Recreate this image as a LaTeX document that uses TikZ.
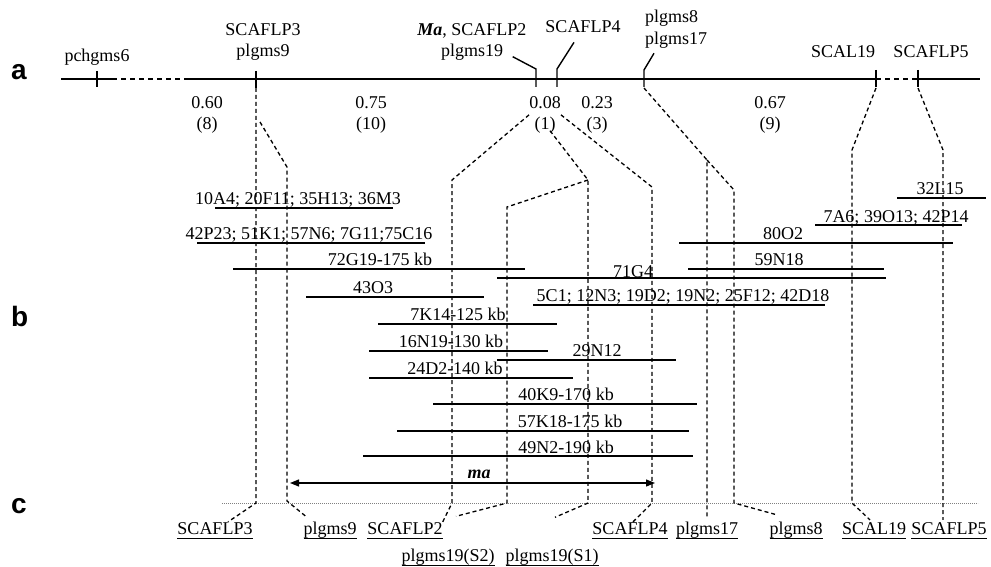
\documentclass[tikz,border=0pt]{standalone}
\usepackage{fontspec}
\setmainfont{Liberation Serif}
\newfontfamily\panelfont{Liberation Sans}
\usetikzlibrary{arrows.meta,positioning,calc}
\definecolor{dotgray}{HTML}{808080}
\newsavebox\sitebox
\newcommand{\sitename}[1]{\sbox\sitebox{#1}\rlap{\rule[-4.5bp]{\wd\sitebox}{0.9bp}}\usebox\sitebox}

\begin{document}
\begin{tikzpicture}[
  x=1bp, y=-1bp, line cap=butt, font=\fontsize{18bp}{21.5bp}\selectfont,
  mapline/.style={line width=1.8bp},
  tick/.style={line width=1.4bp},
  bac/.style={line width=1.3bp},
  link/.style={line width=1.3bp, dash pattern=on 4bp off 3bp},
  cline/.style={dotgray, line width=1bp, dash pattern=on 1bp off 1bp},
  marr/.style={<->, >={Triangle[length=9bp,width=7bp]}, line width=1.2bp},
  txt/.style={inner sep=0pt},
  stack/.style={inner sep=0pt, align=center},
  site/.style={inner sep=0pt, anchor=base},
  baclbl/.style={inner sep=0pt, anchor=base},
  panel/.style={inner sep=0pt, anchor=base west,
                font=\panelfont\bfseries\fontsize{28bp}{30bp}\selectfont}]

\useasboundingbox (0,0) rectangle (991,567);

\node[panel] (pa) at (11,80) {a};
\node[panel] (pb) at (11,326) {b};
\node[panel] (pc) at (11,513) {c};

% map
\coordinate (m0) at (61,79);
\coordinate (m1) at (112,79);
\coordinate (m2) at (188,79);
\coordinate (m3) at (980,79);
\coordinate (tPch) at (97,79);
\coordinate (tS3) at (256,79);
\coordinate (tMa) at (536,79);
\coordinate (tS4) at (557,79);
\coordinate (tPl) at (644,79);
\coordinate (tSc) at (876,79);
\coordinate (tS5) at (918,79);

\draw[mapline] (m0) -- (m1);
\draw[mapline, dash pattern=on 5bp off 4bp] (m1) -- (m2);
\draw[mapline] (m2) -- (tSc);
\draw[mapline, dash pattern=on 5bp off 4bp] (tSc) -- (tS5);
\draw[mapline] (tS5) -- (m3);

\node[txt, anchor=base] (lPch) at (97,62) {pchgms6};
\node[stack, anchor=north] (lS3) at (263,23) {SCAFLP3\\plgms9};
\node[stack, anchor=north] (lMa) at (472,23) {\textbf{\textit{Ma}}, SCAFLP2\\plgms19};
\node[txt, anchor=base] (lS4) at (583,33) {SCAFLP4};
\node[inner sep=0pt, align=left, anchor=north west] (lPl) at (645,10) {plgms8\\plgms17};
\node[txt, anchor=base] (lSc) at (843,58) {SCAL19};
\node[txt, anchor=base] (lS5) at (931,58) {SCAFLP5};

\draw[tick] ([yshift=8bp]tPch) -- ([yshift=-8bp]tPch);
\draw[tick] ([yshift=8bp]tS3) -- ([yshift=-9bp]tS3);
\draw[tick] ([shift={(-14bp,4bp)}]lMa.south east) -- ([yshift=10bp]tMa) -- ([yshift=-8bp]tMa);
\draw[tick] ([shift={(-9bp,-9bp)}]lS4.south) -- ([yshift=10bp]tS4) -- ([yshift=-8bp]tS4);
\draw[tick] ([shift={(9bp,-5bp)}]lPl.south west) -- ([yshift=9bp]tPl) -- ([yshift=-8bp]tPl);
\draw[tick] ([yshift=9bp]tSc) -- ([yshift=-8bp]tSc);
\draw[tick] ([yshift=9bp]tS5) -- ([yshift=-8bp]tS5);

\node[stack, anchor=north] (d1) at (207,96) {0.60\\(8)};
\node[stack, anchor=north] (d2) at (371,96) {0.75\\(10)};
\node[stack, anchor=north] (d3) at (545,96) {0.08\\(1)};
\node[stack, anchor=north] (d4) at (597,96) {0.23\\(3)};
\node[stack, anchor=north] (d5) at (770,96) {0.67\\(9)};

% BAC contig
\foreach \xa/\xb/\yy/\xl/\yl/\txt [count=\i] in {
  215/393/208/298/204.5/{10A4; 20F11; 35H13; 36M3},
  197/425/243/309/239.5/{42P23; 51K1; 57N6; 7G11;75C16},
  233/525/269/380/265.5/{72G19-175 kb},
  497/886/278/633/277.5/{71G4},
  688/884/269/779/265.5/{59N18},
  679/953/243/783/239.5/{80O2},
  815/962/225/896/222.5/{7A6; 39O13; 42P14},
  897/986/198/940/194.5/{32L15},
  306/484/297/373/293.5/{43O3},
  533/825/305/683/301.5/{5C1; 12N3; 19D2; 19N2; 25F12; 42D18},
  378/557/324/458/320/{7K14-125 kb},
  369/548/351/451/347.5/{16N19-130 kb},
  497/676/360/597/356.5/{29N12},
  369/573/378/455/374/{24D2-140 kb},
  433/697/404/566/400.5/{40K9-170 kb},
  397/689/431/570/427.5/{57K18-175 kb},
  363/693/456/566/453.5/{49N2-190 kb}}{
  \draw[bac] (\xa,\yy) -- (\xb,\yy);
  \node[baclbl] (bac\i) at (\xl,\yl) {\txt};
}

% physical map
\coordinate (c0) at (222,503);
\coordinate (c1) at (978,503);
\draw[cline] (c0) -- (c1);

\node[site] (bS3) at (215,534) {\sitename{SCAFLP3}};
\node[site] (bPl9) at (330,534) {\sitename{plgms9}};
\node[site] (bS2) at (405,534) {\sitename{SCAFLP2}};
\node[site] (bP19b) at (448,561) {\sitename{plgms19(S2)}};
\node[site] (bP19a) at (552,561) {\sitename{plgms19(S1)}};
\node[site] (bS4) at (630,534) {\sitename{SCAFLP4}};
\node[site] (bPl17) at (707,534) {\sitename{plgms17}};
\node[site] (bPl8) at (796,534) {\sitename{plgms8}};
\node[site] (bSc) at (874,534) {\sitename{SCAL19}};
\node[site] (bS5) at (949,534) {\sitename{SCAFLP5}};

\draw[link] ([yshift=-9bp]tS3) -- (256,503) -- ([xshift=13bp]bS3.north);
\draw[link] ([shift={(4bp,-43bp)}]tS3) -- (287,167) -- (287,501) -- ([shift={(-23bp,4bp)}]bPl9.north);
\draw[link] (d3.west) -- (452,180) -- (452,503) -- (bS2.north east);
\draw[link] ([shift={(5bp,3bp)}]d3.south) -- (588,180) coordinate (fork19) -- (588,503) -- ([shift={(3bp,31bp)}]bP19a.north);
\draw[link] (fork19) -- (507,207) -- (507,503) -- ([shift={(8bp,32bp)}]bP19b.north);
\draw[link] (d3.east) -- (652,187) -- (652,503) -- ([xshift=3bp]bS4.north);
\draw[link] ([yshift=-9bp]tPl) -- (707,160) coordinate (fork8) -- ([yshift=2bp]bPl17.north);
\draw[link] (fork8) -- (734,190) -- (734,503) -- ([shift={(-21bp,7bp)}]bPl8.north);
\draw[link] ([yshift=-9bp]tSc) -- (852,150) -- (852,503) -- ([shift={(-4bp,2bp)}]bSc.north);
\draw[link] ([yshift=-9bp]tS5) -- (943,150) -- ([shift={(-6bp,2bp)}]bS5.north);

\coordinate (maL) at (290,483);
\coordinate (maR) at (655,483);
\draw[marr] (maL) -- (maR);
\node[txt, anchor=base] (maLbl) at (479,478) {\textbf{\textit{ma}}};

\end{tikzpicture}
\end{document}
